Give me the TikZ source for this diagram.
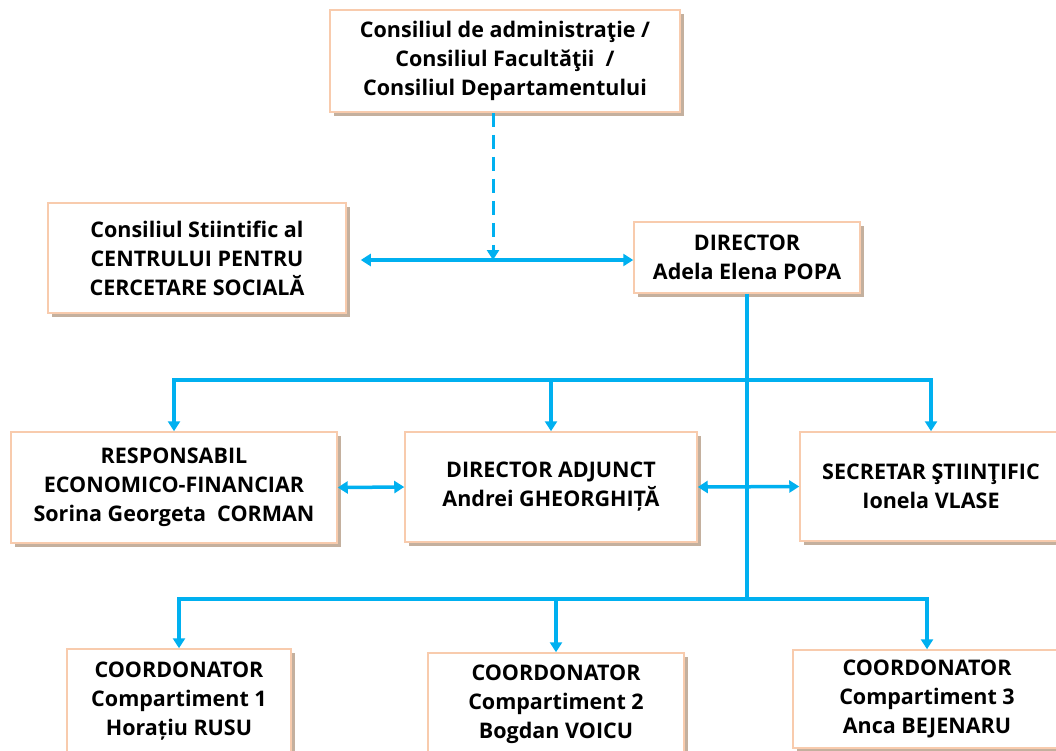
\documentclass[tikz,border=0pt]{standalone}
\usepackage{fontspec}
\setmainfont{Open Sans}
\usetikzlibrary{arrows.meta,shadows}
\definecolor{boxline}{RGB}{248,203,173}
\definecolor{shadecol}{RGB}{196,176,158}
\definecolor{linkblue}{RGB}{0,176,240}
\tikzset{
  box/.style={draw=boxline, line width=1.5pt, fill=white, align=center,
    font=\bfseries\fontsize{21.5}{29}\selectfont, inner sep=0pt,
    drop shadow={shadow xshift=4pt, shadow yshift=-4pt, fill=shadecol, opacity=1}},
  link/.style={draw=linkblue, line width=3.5pt},
  tip/.tip={Triangle[length=10pt,width=12pt]},
  onearrow/.style={link, -tip},
  twoarrow/.style={link, tip-tip},
  dasharrow/.style={link, line width=3pt, dash pattern=on 14pt off 8pt, -tip}
}
\begin{document}
\begin{tikzpicture}[x=1pt,y=-1pt]
\useasboundingbox (0,0) rectangle (1056,750);
\clip (0,0) rectangle (1056,750);
\fill[white] (0,0) rectangle (1056,750);

\node[box, minimum width=350pt, minimum height=102pt] (top) at (505,61)
  {Consiliul de administraţie /\\Consiliul Facultăţii \ /\\Consiliul Departamentului};
\node[box, minimum width=298pt, minimum height=110pt] (cs) at (197,258)
  {Consiliul Stiintific al\\CENTRULUI PENTRU\\CERCETARE SOCIALĂ};
\node[box, minimum width=226pt, minimum height=71pt] (dir) at (747,257.5)
  {DIRECTOR\\Adela Elena POPA};
\node[box, minimum width=326pt, minimum height=111pt] (resp) at (174,487.5)
  {RESPONSABIL\\ECONOMICO-FINANCIAR\\Sorina Georgeta \ CORMAN};
\node[box, minimum width=292pt, minimum height=110pt] (adj) at (551,487)
  {DIRECTOR ADJUNCT\\Andrei GHEORGHIȚĂ};
\node[box, minimum width=262pt, minimum height=109pt] (sec) at (931,486.5)
  {SECRETAR ŞTIINŢIFIC\\Ionela VLASE};
\node[box, minimum width=224pt, minimum height=104pt] (c1) at (179,701)
  {COORDONATOR\\Compartiment 1\\Horațiu RUSU};
\node[box, minimum width=256pt, minimum height=102pt] (c2) at (556,704)
  {COORDONATOR\\Compartiment 2\\Bogdan VOICU};
\node[box, minimum width=268pt, minimum height=98pt] (c3) at (927,699)
  {COORDONATOR\\Compartiment 3\\Anca BEJENARU};

% top connections
\coordinate (j1) at (493,260);
\draw[twoarrow] ([xshift=14pt]cs.east |- j1) -- (dir.west |- j1);
\draw[dasharrow] (top.south -| j1) -- (j1);

% director trunk
\coordinate (b1) at (0,380);
\coordinate (b2) at (0,599);
\draw[link] (dir.south) -- (dir.south |- b2);

% middle bar
\draw[link, line cap=rect] (resp.north |- b1) -- (sec.north |- b1);
\draw[onearrow] (resp.north |- b1) -- (resp.north);
\draw[onearrow] (adj.north |- b1) -- (adj.north);
\draw[onearrow] (sec.north |- b1) -- (sec.north);

% lateral links
\draw[twoarrow] (resp.east) -- (adj.west);
\draw[twoarrow] (adj.east) -- (sec.west);

% bottom bar
\draw[link, line cap=rect] (c1.north |- b2) -- (c3.north |- b2);
\draw[onearrow] (c1.north |- b2) -- (c1.north);
\draw[onearrow] (c2.north |- b2) -- (c2.north);
\draw[onearrow] (c3.north |- b2) -- (c3.north);
\end{tikzpicture}
\end{document}
